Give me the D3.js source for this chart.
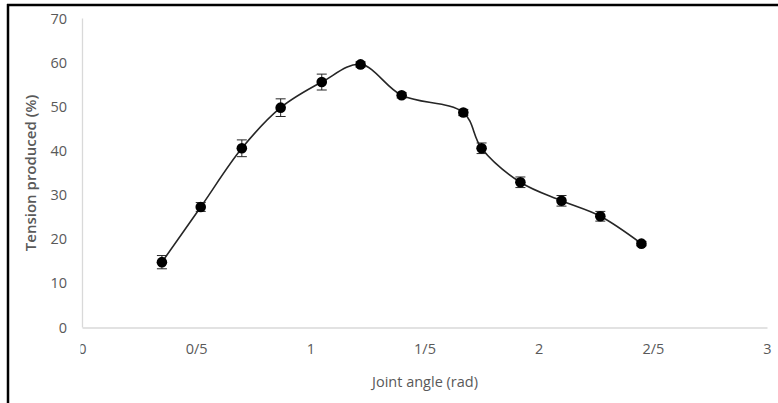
<!DOCTYPE html>
<html>
<head>
<meta charset="utf-8">
<script src="https://cdn.jsdelivr.net/npm/d3@7"></script>
<style>
  body { margin: 0; background: #fff; }
  text { font-family: "Open Sans", sans-serif; }
</style>
</head>
<body>
<svg id="canvas"></svg>
<script>
// joint angle (rad) and tension (%)
let angles = [0.35, 0.52, 0.70, 0.87, 1.05, 1.22, 1.40, 1.67, 1.75, 1.92, 2.10, 2.27, 2.45];
let tension = [14.8, 27.3, 40.6, 49.8, 55.6, 59.6, 52.6, 48.7, 40.6, 32.9, 28.7, 25.2, 19.0];
let errors = [1.5, 1.0, 1.9, 2.0, 1.8, 0.6, 0.6, 0.7, 1.2, 1.2, 1.2, 1.1, 0.5];

let xTicks = [0, 0.5, 1, 1.5, 2, 2.5, 3];
let xTickLabels = ['0', '0/5', '1', '1/5', '2', '2/5', '3'];
let yTicks = [0, 10, 20, 30, 40, 50, 60, 70];

let width = 778;
let height = 403;

let canvas = d3.select('#canvas');
canvas.attr('width', width);
canvas.attr('height', height);

let xScale = d3.scaleLinear().domain([0, 3]).range([82, 767]);
let yScale = d3.scaleLinear().domain([0, 70]).range([327.5, 18.5]);

let points = angles.map((a, i) => ({ x: a, y: tension[i], e: errors[i] }));

// frame (only top and left edges are visible in the crop)
canvas.append('line')
    .attr('x1', 7).attr('x2', 778).attr('y1', 5).attr('y2', 5)
    .attr('stroke', '#000').attr('stroke-width', 2.5);
canvas.append('line')
    .attr('x1', 8).attr('x2', 8).attr('y1', 4).attr('y2', height)
    .attr('stroke', '#000').attr('stroke-width', 2.5);

// axes
let xAxis = d3.axisBottom(xScale)
    .tickValues(xTicks)
    .tickSize(0)
    .tickPadding(16)
    .tickFormat((d, i) => xTickLabels[i]);
let yAxis = d3.axisLeft(yScale)
    .tickValues(yTicks)
    .tickSize(0)
    .tickPadding(15);

// the "0" under the origin is cut in half in the original
canvas.append('clipPath').attr('id', 'xclip')
    .append('rect').attr('x', -2).attr('y', -10).attr('width', 40).attr('height', 60);

let gx = canvas.append('g')
    .attr('id', 'x-axis')
    .attr('transform', 'translate(0, ' + yScale(0) + ')')
    .call(xAxis);
gx.selectAll('.tick').filter((d, i) => i === 0).attr('clip-path', 'url(#xclip)');

let gy = canvas.append('g')
    .attr('id', 'y-axis')
    .attr('transform', 'translate(' + xScale(0) + ', 0)')
    .call(yAxis);

[gx, gy].forEach(g => {
    g.select('.domain').attr('stroke', '#d9d9d9').attr('stroke-width', 1.3);
    g.selectAll('text').attr('fill', '#595959').attr('font-size', 14.5)
        .attr('font-family', '"Open Sans", sans-serif');
});
gy.select('.domain').attr('d', 'M0.5,' + yScale(70) + 'V' + yScale(0));

// axis titles
canvas.append('text')
    .attr('x', 425).attr('y', 387)
    .attr('text-anchor', 'middle')
    .attr('fill', '#595959').attr('font-size', 14.5)
    .text('Joint angle (rad)');
canvas.append('text')
    .attr('transform', 'translate(36, 173) rotate(-90)')
    .attr('text-anchor', 'middle')
    .attr('fill', '#595959').attr('font-size', 15).attr('font-weight', 600)
    .text('Tension produced (%)');

// smoothed line
let line = d3.line()
    .x(d => xScale(d.x))
    .y(d => yScale(d.y))
    .curve(d3.curveCatmullRom.alpha(0.5));
canvas.append('path')
    .datum(points)
    .attr('d', line)
    .attr('fill', 'none')
    .attr('stroke', '#262626')
    .attr('stroke-width', 1.6);

// error bars
let bars = canvas.selectAll('.err')
    .data(points)
    .enter()
    .append('g')
    .attr('class', 'err')
    .attr('stroke', '#262626')
    .attr('stroke-width', 1);
bars.append('line')
    .attr('x1', d => xScale(d.x)).attr('x2', d => xScale(d.x))
    .attr('y1', d => yScale(d.y + d.e)).attr('y2', d => yScale(d.y - d.e));
bars.append('line')
    .attr('x1', d => xScale(d.x) - 5).attr('x2', d => xScale(d.x) + 5)
    .attr('y1', d => yScale(d.y + d.e)).attr('y2', d => yScale(d.y + d.e));
bars.append('line')
    .attr('x1', d => xScale(d.x) - 5).attr('x2', d => xScale(d.x) + 5)
    .attr('y1', d => yScale(d.y - d.e)).attr('y2', d => yScale(d.y - d.e));

// markers
canvas.selectAll('circle')
    .data(points)
    .enter()
    .append('circle')
    .attr('cx', d => xScale(d.x))
    .attr('cy', d => yScale(d.y))
    .attr('r', 5.3)
    .attr('fill', '#000');
</script>
</body>
</html>
